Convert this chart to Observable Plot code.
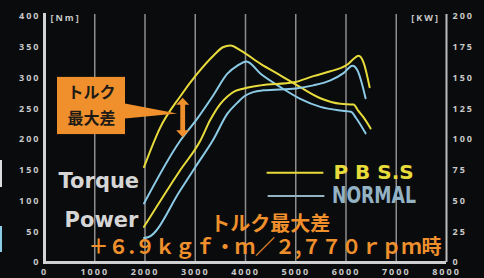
<!DOCTYPE html>
<html><head><meta charset="utf-8">
<script src="https://cdn.jsdelivr.net/npm/d3@7"></script>
<script src="https://cdn.jsdelivr.net/npm/@observablehq/plot@0.6"></script>
<style>
html,body{margin:0;padding:0;background:#0a0b0d;}
#chart{position:relative;width:484px;height:278px;overflow:hidden;background:#0a0b0d;}
#chart svg{display:block;}
g[aria-label$="tick label"] text{letter-spacing:2px;}
.edge{position:absolute;left:0;width:2px;}
</style></head><body>
<div id="chart">
  <div class="edge" style="top:160px;height:27px;background:#dcdcdc"></div>
  <div class="edge" style="top:226px;height:26px;background:#8ccbe6"></div>
</div>
<script>
// ---- palette ----
const yellow = "#e8db3c";
const blue = "#8ccbe6";
const orange = "#f0902c";
const legendBlue = "#93b2c3";

// ---- axes ----
const xTicks = [0, 1000, 2000, 3000, 4000, 5000, 6000, 7000, 8000];
const gridRpm = [1000, 2000, 3000, 4000, 5000, 6000, 7000];
const nmTicks = [0, 50, 100, 150, 200, 250, 300, 350, 400];
const kwTicks = [0, 25, 50, 75, 100, 125, 150, 175, 200];

// ---- torque (Nm) ----
const torquePbssRpm = [1980, 2300, 2700, 3040, 3370, 3550, 3700, 3900, 4300, 4700, 5090, 5490, 5890, 6150, 6250, 6350, 6490];
const torquePbssNm  = [155, 219, 270, 307, 337, 350, 353, 345, 323, 304, 285, 267, 258, 257, 246, 236, 218];
const torqueNormalRpm = [1980, 2700, 3040, 3360, 3640, 3840, 4020, 4300, 4700, 5090, 5490, 5890, 6100, 6200, 6390];
const torqueNormalNm  = [96, 198, 234, 272, 307, 320, 327, 307, 285, 266, 253, 247, 245, 235, 210];

// ---- power (kW) ----
const powerPbssRpm = [1980, 2700, 3100, 3300, 3500, 3640, 3800, 3970, 4300, 4960, 5350, 5690, 5890, 6030, 6150, 6250, 6350, 6470];
const powerPbssKw  = [29, 75, 99, 116, 129, 135, 139.5, 141.5, 144, 146.5, 151.5, 155.5, 158, 161, 165.5, 168, 162.5, 142.5];
const powerNormalRpm = [1980, 2060, 2700, 3000, 3360, 3640, 3840, 3970, 4150, 4360, 5000, 5350, 5690, 5950, 6130, 6230, 6390];
const powerNormalKw  = [20, 20.5, 58.5, 77.5, 100, 121, 130, 135, 138.5, 140, 141.5, 144, 148, 154, 160, 156, 133.5];

// ---- annotation values ----
const arrowRpm = 2760;
const arrowTopNm = 267;
const arrowBottomNm = 203;
const kwPerNm = 0.5; // right axis: 200 kW at 400 Nm

const rows = [];
function addSeries(rpms, vals, series, kind, toY) {
  rpms.forEach((r, i) => rows.push({rpm: r, y: toY(vals[i]), series, key: series + "-" + kind}));
}
addSeries(torquePbssRpm, torquePbssNm, "P B S.S", "torque", v => v);
addSeries(torqueNormalRpm, torqueNormalNm, "NORMAL", "torque", v => v);
addSeries(powerPbssRpm, powerPbssKw, "P B S.S", "power", v => v / kwPerNm);
addSeries(powerNormalRpm, powerNormalKw, "NORMAL", "power", v => v / kwPerNm);

const calloutBox = [{x1: 259, x2: 1612, y1: 208, y2: 301}];
const calloutPointer = [{rpm: 1600, nm: 258.5}, {rpm: 2640, nm: 242.3}, {rpm: 1600, nm: 234}];

const legend = [
  {label: "P B S.S", color: yellow, x1: 4420, x2: 5550, y: 146},
  {label: "NORMAL", color: legendBlue, x1: 4440, x2: 5570, y: 108}
];

function doubleArrow(index, scales) {
  const sx = scales.x, sy = scales.y;
  const cx = sx(arrowRpm), t = sy(arrowTopNm), b = sy(arrowBottomNm);
  const hw = 6.5, hh = 7, sw = 2.4;
  const pts = [[cx, t], [cx + hw, t + hh], [cx + sw, t + hh], [cx + sw, b - hh], [cx + hw, b - hh], [cx, b],
               [cx - hw, b - hh], [cx - sw, b - hh], [cx - sw, t + hh], [cx - hw, t + hh]];
  const g = d3.create("svg:g");
  g.append("path").attr("d", "M" + pts.map(p => p.join(",")).join("L") + "Z").attr("fill", orange);
  return g.node();
}

const jp = "'Noto Sans CJK JP', sans-serif";

const chart = Plot.plot({
  width: 484, height: 278,
  marginLeft: 44, marginRight: 38, marginTop: 16, marginBottom: 16,
  style: {background: "transparent", color: "#c9c9c9", fontFamily: "'Open Sans', sans-serif", fontSize: "9px", fontWeight: "bold", overflow: "visible"},
  x: {domain: [0, 8000]},
  y: {domain: [0, 400]},
  color: {domain: ["P B S.S", "NORMAL"], range: [yellow, blue]},
  marks: [
    Plot.ruleX(gridRpm, {stroke: "#8e8e8e", strokeWidth: 1.5, insetTop: -2}),
    Plot.ruleX([8000], {stroke: "#bdbdbd", strokeWidth: 2, insetTop: -2}),
    Plot.ruleY([0], {stroke: "#cfcfcf", strokeWidth: 3, insetLeft: -1}),
    Plot.ruleX([0], {stroke: "#d4d4d4", strokeWidth: 3, insetTop: -3, insetBottom: -2}),
    Plot.axisX(xTicks, {tickSize: 0, tickPadding: 6, tickFormat: d => String(d), label: null, fill: "#c9c9c9"}),
    Plot.axisY(nmTicks, {anchor: "left", tickSize: 0, tickPadding: 4, tickFormat: d => String(d), label: null, fill: "#c9c9c9"}),
    Plot.axisY(kwTicks.map(k => k / kwPerNm), {anchor: "right", tickSize: 0, tickPadding: 6, tickFormat: d => String(d * kwPerNm), label: null, fill: "#c9c9c9"}),
    Plot.text([{t: "[Nm]", x: 120, y: 398}], {x: "x", y: "y", text: "t", textAnchor: "start", fill: "#c9c9c9", fontSize: 9, fontWeight: "bold"}),
    Plot.text([{t: "[KW]", x: 7870, y: 398}], {x: "x", y: "y", text: "t", textAnchor: "end", fill: "#c9c9c9", fontSize: 9, fontWeight: "bold"}),
    Plot.line(rows, {x: "rpm", y: "y", z: "key", stroke: "series", strokeWidth: 2, curve: "monotone-x"}),
    // callout
    Plot.rect(calloutBox, {x1: "x1", x2: "x2", y1: "y1", y2: "y2", fill: orange}),
    Plot.line(calloutPointer, {x: "rpm", y: "nm", fill: orange, stroke: "none"}),
    Plot.text([{t: "トルク", x: 935, y: 276}, {t: "最大差", x: 935, y: 234}], {x: "x", y: "y", text: "t", fill: "#1e1a16", fontSize: 16, fontWeight: "bold", fontFamily: jp}),
    doubleArrow,
    // series labels
    Plot.text([{t: "Torque", x: 280, y: 132}], {x: "x", y: "y", text: "t", textAnchor: "start", fill: "#d6d6d6", fontSize: 21, fontWeight: "bold", fontFamily: "'DejaVu Sans', sans-serif"}),
    Plot.text([{t: "Power", x: 400, y: 68}], {x: "x", y: "y", text: "t", textAnchor: "start", fill: "#d6d6d6", fontSize: 21, fontWeight: "bold", fontFamily: "'DejaVu Sans', sans-serif"}),
    // legend
    Plot.link(legend, {x1: "x1", x2: "x2", y1: "y", y2: "y", stroke: "color", strokeWidth: 2}),
    Plot.text([legend[0]], {x: d => d.x2 + 200, y: "y", text: "label", textAnchor: "start", fill: yellow, fontSize: 20, fontWeight: "bold", fontFamily: "'DejaVu Sans', sans-serif"}),
    Plot.text([legend[1]], {x: d => d.x2 + 150, y: "y", text: "label", textAnchor: "start", fill: legendBlue, fontSize: 23, fontWeight: "bold", fontFamily: "'Liberation Sans Narrow', 'DejaVu Sans Condensed', sans-serif"}),
    // big orange annotation
    Plot.text([{t: "トルク最大差", x: 3300, y: 61.5}], {x: "x", y: "y", text: "t", textAnchor: "start", fill: orange, fontSize: 20, fontWeight: "bold", fontFamily: jp}),
    Plot.text([{t: "＋６.９ｋｇｆ・ｍ／２,７７０ｒｐｍ時", x: 875, y: 24}], {x: "x", y: "y", text: "t", textAnchor: "start", fill: orange, fontSize: 20, fontWeight: "bold", fontFamily: jp})
  ]
});
d3.select(chart).selectAll("text")
  .filter(function() { return this.textContent === "[Nm]" || this.textContent === "[KW]"; })
  .style("letter-spacing", "2px");
d3.select(chart).selectAll("text")
  .filter(function() { return this.textContent === "NORMAL"; })
  .attr("textLength", 84).attr("lengthAdjust", "spacingAndGlyphs");
document.getElementById("chart").prepend(chart);
</script>
</body></html>
